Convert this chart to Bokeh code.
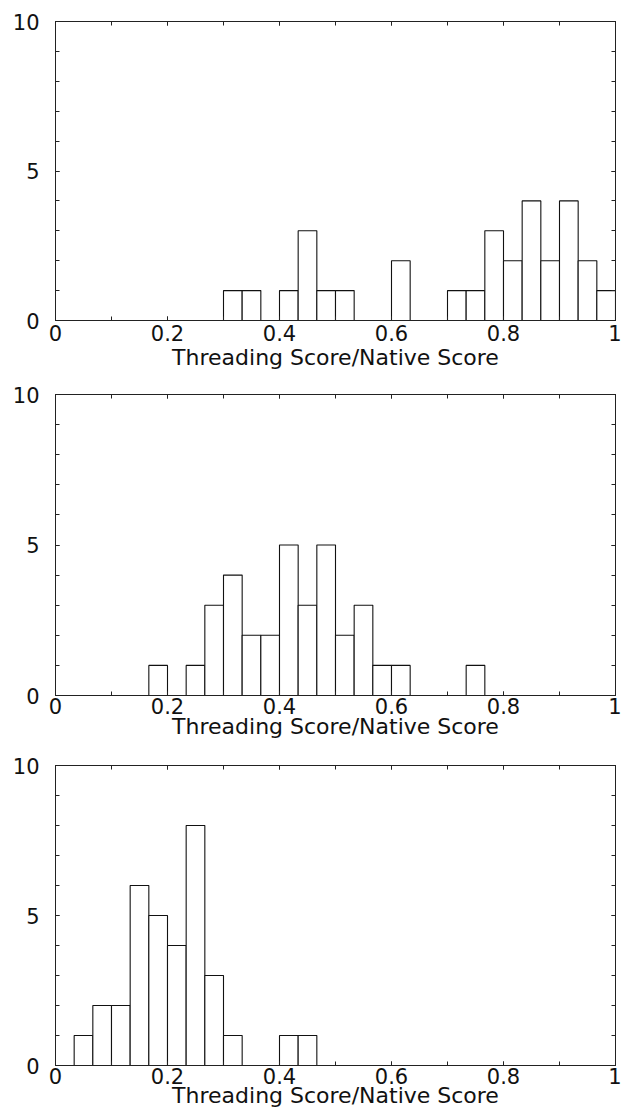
import numpy as np
from bokeh.plotting import figure
from bokeh.layouts import column
from bokeh.models import LinearAxis, FixedTicker, Range1d, CustomLabelingPolicy
from bokeh.embed import file_html
from bokeh.resources import INLINE

# 30 bins of width 1/30 covering 0..1
n_bins = 30
x_label = "Threading Score/Native Score"
x_ticks = [0, 0.2, 0.4, 0.6, 0.8, 1.0]
x_tick_labels = {0: "0", 0.2: "0.2", 0.4: "0.4", 0.6: "0.6", 0.8: "0.8", 1.0: "1"}
x_minor = [0, 0.1, 0.2, 0.3, 0.4, 0.5, 0.6, 0.7, 0.8, 0.9, 1.0]
y_ticks = [0, 5, 10]
y_minor = [0, 1, 2, 3, 4, 5, 6, 7, 8, 9, 10]

counts_top = [0, 0, 0, 0, 0, 0, 0, 0, 0, 1,
              1, 0, 1, 3, 1, 1, 0, 0, 2, 0,
              0, 1, 1, 3, 2, 4, 2, 4, 2, 1]
counts_mid = [0, 0, 0, 0, 0, 1, 0, 1, 3, 4,
              2, 2, 5, 3, 5, 2, 3, 1, 1, 0,
              0, 0, 1, 0, 0, 0, 0, 0, 0, 0]
counts_bot = [0, 1, 2, 2, 6, 5, 4, 8, 3, 1,
              0, 0, 1, 1, 0, 0, 0, 0, 0, 0,
              0, 0, 0, 0, 0, 0, 0, 0, 0, 0]

edges = np.linspace(0.0, 1.0, n_bins + 1)

FONT = "DejaVu Sans"
TICK_FS = "21px"
LABEL_FS = "22px"
EDGE = "#222222"


def style_axis(ax, show_labels):
    ax.axis_line_color = EDGE
    ax.axis_line_width = 1
    ax.major_tick_in = 4
    ax.major_tick_out = 0
    ax.minor_tick_in = 4
    ax.minor_tick_out = 0
    ax.major_tick_line_color = EDGE
    ax.minor_tick_line_color = EDGE
    ax.major_label_text_font = FONT
    ax.major_label_text_color = "#111111"
    if show_labels:
        ax.major_label_text_font_size = TICK_FS
    else:
        ax.major_label_text_font_size = "0px"
        ax.major_label_policy = CustomLabelingPolicy(code="return new Set()")
        ax.major_label_standoff = 0


def make_panel(counts, height, b_left, b_top, b_bottom, tick_gap, label_gap):
    p = figure(width=621, height=height, output_backend="svg",
               toolbar_location=None, x_range=Range1d(0, 1),
               y_range=Range1d(0, 10), x_axis_type=None, y_axis_type=None,
               min_border_left=b_left, min_border_right=6,
               min_border_top=b_top, min_border_bottom=b_bottom)
    p.background_fill_color = "white"
    p.border_fill_color = "white"
    p.outline_line_color = EDGE
    p.outline_line_width = 1
    p.xgrid.visible = False
    p.ygrid.visible = False

    c = np.array(counts)
    mask = c > 0
    p.quad(left=edges[:-1][mask], right=edges[1:][mask], bottom=0,
           top=c[mask], fill_color="white", line_color="#111111",
           line_width=1.1)

    xt = FixedTicker(ticks=x_ticks, minor_ticks=x_minor)
    yt = FixedTicker(ticks=y_ticks, minor_ticks=y_minor)

    xb = LinearAxis(ticker=xt, axis_label=x_label)
    xb.major_label_overrides = x_tick_labels
    style_axis(xb, True)
    xb.major_label_standoff = tick_gap
    xb.axis_label_text_font = FONT
    xb.axis_label_text_font_size = LABEL_FS
    xb.axis_label_text_font_style = "normal"
    xb.axis_label_text_color = "#111111"
    xb.axis_label_standoff = label_gap
    p.add_layout(xb, "below")

    xa = LinearAxis(ticker=xt)
    style_axis(xa, False)
    p.add_layout(xa, "above")

    yl = LinearAxis(ticker=yt)
    style_axis(yl, True)
    yl.major_label_standoff = 16
    p.add_layout(yl, "left")

    yr = LinearAxis(ticker=yt)
    style_axis(yr, False)
    p.add_layout(yr, "right")
    return p


p1 = make_panel(counts_top, 372, 50, 21, 52, 4, 1)
p2 = make_panel(counts_mid, 370, 54, 22, 47, 2, -3)
p3 = make_panel(counts_bot, 369, 55, 23, 46, 2, -4)

layout = column(p1, p2, p3, spacing=0)
open("out.html", "w").write(file_html(layout, INLINE))
